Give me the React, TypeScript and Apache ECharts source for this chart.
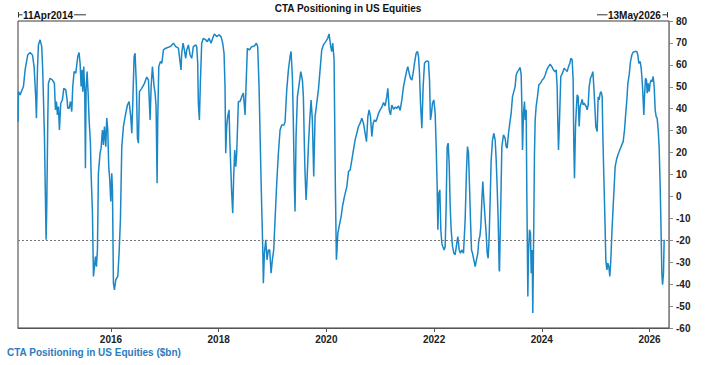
import React, { useEffect, useRef } from "react";
import * as echarts from "echarts";

// Dates as decimal years (11 Apr 2014 .. May 2026)
const years: number[] = [
  2014.275, 2014.282, 2014.313, 2014.375, 2014.406, 2014.455, 2014.499, 2014.542, 2014.573, 2014.604,
  2014.616, 2014.635, 2014.653, 2014.684, 2014.715, 2014.734, 2014.765, 2014.796, 2014.808, 2014.827,
  2014.839, 2014.870, 2014.913, 2014.950, 2014.969, 2014.988, 2015.006, 2015.025, 2015.043, 2015.068,
  2015.099, 2015.124, 2015.161, 2015.186, 2015.198, 2015.223, 2015.248, 2015.272, 2015.291, 2015.316,
  2015.347, 2015.384, 2015.408, 2015.427, 2015.446, 2015.464, 2015.477, 2015.495, 2015.514, 2015.526,
  2015.538, 2015.557, 2015.576, 2015.594, 2015.619, 2015.631, 2015.656, 2015.675, 2015.693, 2015.712,
  2015.730, 2015.749, 2015.767, 2015.798, 2015.817, 2015.842, 2015.860, 2015.879, 2015.904, 2015.922,
  2015.941, 2015.959, 2015.978, 2015.997, 2016.015, 2016.028, 2016.046, 2016.065, 2016.089, 2016.127,
  2016.151, 2016.176, 2016.201, 2016.232, 2016.263, 2016.306, 2016.337, 2016.368, 2016.387, 2016.405,
  2016.430, 2016.448, 2016.473, 2016.492, 2016.510, 2016.529, 2016.572, 2016.622, 2016.665, 2016.696,
  2016.727, 2016.746, 2016.770, 2016.801, 2016.820, 2016.838, 2016.857, 2016.869, 2016.888, 2016.919,
  2016.944, 2016.975, 2017.018, 2017.067, 2017.117, 2017.160, 2017.204, 2017.253, 2017.301, 2017.314,
  2017.339, 2017.363, 2017.388, 2017.407, 2017.438, 2017.469, 2017.500, 2017.530, 2017.574, 2017.592,
  2017.611, 2017.623, 2017.642, 2017.660, 2017.685, 2017.716, 2017.759, 2017.790, 2017.821, 2017.859,
  2017.889, 2017.920, 2017.964, 2018.007, 2018.044, 2018.075, 2018.100, 2018.118, 2018.131, 2018.149,
  2018.168, 2018.193, 2018.205, 2018.224, 2018.242, 2018.261, 2018.279, 2018.298, 2018.317, 2018.335,
  2018.366, 2018.397, 2018.428, 2018.459, 2018.490, 2018.508, 2018.533, 2018.570, 2018.614, 2018.663,
  2018.700, 2018.725, 2018.750, 2018.775, 2018.799, 2018.818, 2018.830, 2018.849, 2018.874, 2018.898,
  2018.923, 2018.948, 2018.973, 2018.997, 2019.022, 2019.047, 2019.078, 2019.109, 2019.140, 2019.171,
  2019.214, 2019.233, 2019.264, 2019.295, 2019.326, 2019.344, 2019.369, 2019.387, 2019.406, 2019.418,
  2019.437, 2019.462, 2019.493, 2019.524, 2019.555, 2019.573, 2019.592, 2019.604, 2019.623, 2019.641,
  2019.666, 2019.691, 2019.716, 2019.740, 2019.765, 2019.790, 2019.821, 2019.852, 2019.883, 2019.914,
  2019.945, 2019.988, 2020.025, 2020.050, 2020.081, 2020.099, 2020.118, 2020.143, 2020.167, 2020.186,
  2020.194, 2020.213, 2020.237, 2020.274, 2020.299, 2020.336, 2020.380, 2020.411, 2020.442, 2020.473,
  2020.503, 2020.534, 2020.565, 2020.596, 2020.627, 2020.658, 2020.689, 2020.720, 2020.745, 2020.770,
  2020.794, 2020.819, 2020.844, 2020.869, 2020.893, 2020.918, 2020.943, 2020.968, 2020.999, 2021.030,
  2021.061, 2021.091, 2021.122, 2021.141, 2021.166, 2021.191, 2021.215, 2021.246, 2021.277, 2021.308,
  2021.339, 2021.370, 2021.401, 2021.432, 2021.463, 2021.494, 2021.512, 2021.537, 2021.562, 2021.587,
  2021.611, 2021.636, 2021.667, 2021.692, 2021.711, 2021.729, 2021.748, 2021.773, 2021.797, 2021.822,
  2021.847, 2021.871, 2021.896, 2021.915, 2021.933, 2021.952, 2021.970, 2021.995, 2022.020, 2022.039,
  2022.057, 2022.070, 2022.088, 2022.107, 2022.125, 2022.144, 2022.162, 2022.187, 2022.206, 2022.224,
  2022.243, 2022.261, 2022.280, 2022.299, 2022.317, 2022.342, 2022.367, 2022.391, 2022.422, 2022.441,
  2022.466, 2022.490, 2022.515, 2022.546, 2022.577, 2022.602, 2022.620, 2022.639, 2022.658, 2022.676,
  2022.695, 2022.713, 2022.738, 2022.763, 2022.787, 2022.812, 2022.831, 2022.849, 2022.868, 2022.887,
  2022.905, 2022.924, 2022.949, 2022.967, 2022.986, 2023.004, 2023.023, 2023.041, 2023.060, 2023.085,
  2023.109, 2023.134, 2023.153, 2023.171, 2023.190, 2023.209, 2023.214, 2023.239, 2023.258, 2023.289,
  2023.320, 2023.338, 2023.357, 2023.382, 2023.406, 2023.431, 2023.456, 2023.481, 2023.505, 2023.524,
  2023.549, 2023.573, 2023.598, 2023.617, 2023.629, 2023.642, 2023.660, 2023.679, 2023.691, 2023.710,
  2023.722, 2023.741, 2023.753, 2023.772, 2023.790, 2023.803, 2023.821, 2023.833, 2023.852, 2023.864,
  2023.877, 2023.895, 2023.920, 2023.945, 2023.976, 2024.007, 2024.038, 2024.063, 2024.093, 2024.124,
  2024.155, 2024.186, 2024.217, 2024.248, 2024.267, 2024.285, 2024.298, 2024.310, 2024.329, 2024.353,
  2024.384, 2024.415, 2024.446, 2024.471, 2024.496, 2024.521, 2024.539, 2024.564, 2024.582, 2024.595,
  2024.607, 2024.626, 2024.644, 2024.657, 2024.675, 2024.694, 2024.712, 2024.731, 2024.750, 2024.768,
  2024.787, 2024.805, 2024.824, 2024.843, 2024.861, 2024.880, 2024.904, 2024.929, 2024.948, 2024.966,
  2024.985, 2025.003, 2025.028, 2025.047, 2025.065, 2025.084, 2025.102, 2025.121, 2025.133, 2025.152,
  2025.171, 2025.189, 2025.208, 2025.226, 2025.245, 2025.263, 2025.282, 2025.301, 2025.319, 2025.344,
  2025.362, 2025.387, 2025.412, 2025.437, 2025.461, 2025.486, 2025.511, 2025.536, 2025.554, 2025.579,
  2025.598, 2025.622, 2025.647, 2025.672, 2025.697, 2025.734, 2025.765, 2025.783, 2025.802, 2025.827,
  2025.845, 2025.858, 2025.870, 2025.882, 2025.895, 2025.907, 2025.926, 2025.944, 2025.957, 2025.975,
  2025.994, 2026.012, 2026.031, 2026.050, 2026.068, 2026.087, 2026.105, 2026.124, 2026.142, 2026.161,
  2026.179, 2026.198, 2026.211, 2026.229, 2026.242, 2026.260, 2026.272,
];

// CTA positioning, $bn
const positioning: number[] = [
  34.1, 47.8, 46.3, 50.1, 57.7, 64.5, 65.6, 64.5, 59.2, 44.8,
  35.7, 57.7, 69.1, 71.4, 68.3, 56.9, 27.3, -19.8, -4.6, 34.9,
  51.6, 53.9, 53.1, 51.6, 39.5, 43.3, 37.2, 41.0, 30.3, 42.5,
  44.0, 49.3, 48.6, 44.0, 40.2, 40.2, 43.3, 38.7, 50.1, 56.9,
  56.2, 63.8, 65.6, 60.7, 50.1, 57.7, 47.8, 59.2, 46.3, 12.9,
  48.6, 56.9, 47.1, 34.9, 24.3, 10.6, -6.9, -36.5, -32.0, -27.4,
  -32.0, -24.4, 10.6, 19.7, 22.0, 30.3, 23.5, 31.9, 22.7, 35.7,
  30.3, 13.6, 7.6, -2.3, 10.6, 3.0, -39.6, -42.6, -38.0, -36.5,
  -25.9, -10.7, 22.7, 31.9, 36.4, 41.7, 43.3, 36.4, 28.8, 42.5,
  63.8, 65.3, 50.1, 26.5, 24.3, 47.8, 49.3, 51.6, 54.4, 53.1,
  34.9, 50.1, 59.2, 50.1, 47.1, 41.0, 6.0, 34.9, 59.2, 61.5,
  60.7, 66.8, 67.6, 68.0, 68.6, 69.9, 68.3, 67.6, 57.7, 65.3,
  69.9, 66.8, 63.0, 66.8, 69.1, 64.5, 63.0, 68.3, 69.1, 68.3,
  60.7, 42.5, 34.9, 51.6, 69.9, 72.1, 71.4, 70.6, 72.1, 69.9,
  72.1, 74.1, 72.9, 73.7, 72.9, 69.9, 65.3, 50.1, 19.7, 31.9,
  36.4, 39.5, 27.3, 13.6, 1.5, -7.6, 9.1, 21.2, 13.6, 19.7,
  43.3, 43.3, 45.5, 47.1, 37.2, 50.1, 67.6, 66.8, 68.3, 68.6,
  69.9, 68.3, 50.1, 21.2, -4.6, -22.8, -39.6, -25.9, -19.8, -28.9,
  -24.4, -24.4, -35.0, -28.9, -24.4, -10.7, 6.0, 19.7, 30.3, 32.6,
  32.6, 34.1, 48.6, 57.7, 63.8, 66.1, 54.7, 33.4, 4.5, -6.9,
  27.3, 45.5, 50.9, 56.9, 53.1, 45.5, 22.7, 10.6, -1.6, 7.6,
  22.7, 34.9, 44.0, 34.9, 9.1, 36.4, 42.5, 48.6, 57.7, 66.8,
  69.1, 70.6, 72.1, 74.1, 68.3, 66.1, 69.9, 62.3, 4.5, -28.9,
  -25.9, -16.8, -13.7, -9.2, -4.6, 0.0, 4.5, 11.4, 12.1, 16.7,
  21.2, 25.8, 28.8, 31.9, 33.4, 35.7, 33.4, 28.8, 25.0, 36.4,
  39.5, 36.4, 27.3, 33.4, 34.9, 34.1, 35.7, 37.9, 39.5, 40.7,
  42.8, 41.3, 45.5, 49.3, 39.5, 37.2, 41.7, 39.8, 40.7, 40.2,
  41.3, 39.2, 44.0, 50.1, 53.9, 57.7, 59.2, 56.2, 53.9, 53.1,
  56.2, 60.7, 65.3, 66.1, 63.8, 56.2, 42.5, 31.1, 50.1, 60.7,
  61.5, 61.8, 61.5, 53.1, 34.9, 37.9, 42.5, 44.0, 37.9, 22.7,
  4.5, -15.2, 1.5, 3.0, -15.2, -21.3, -22.8, -24.4, -22.8, -4.6,
  22.7, 24.3, 15.2, -4.6, -15.2, -22.8, -25.9, -26.6, -21.3, -18.3,
  -24.4, -25.9, -24.4, -25.9, -10.7, 12.1, 22.7, 19.7, 4.5, -10.7,
  -24.4, -25.9, -28.9, -32.0, -28.9, -25.9, -19.8, -18.3, -13.7, -1.6,
  6.8, -1.6, -10.7, -16.8, -25.9, -28.2, -18.3, -1.6, 16.7, 25.8,
  28.8, 25.8, 16.7, 4.5, -10.7, -33.5, -34.2, -3.1, 22.7, 28.1,
  26.5, 22.7, 22.0, 28.8, 33.4, 37.9, 45.5, 47.8, 50.1, 55.4,
  56.9, 57.7, 58.8, 55.4, 42.5, 21.2, 37.9, 43.3, 34.9, 39.5,
  1.5, -45.6, -25.9, -15.2, -16.8, -35.0, -24.4, -53.2, -10.7, 19.7,
  34.9, 41.0, 45.5, 50.9, 51.6, 53.1, 53.9, 55.4, 57.7, 59.2,
  60.3, 59.2, 57.7, 56.9, 57.7, 50.1, 33.4, 21.2, 34.9, 54.7,
  56.2, 58.5, 57.7, 56.9, 59.2, 60.7, 63.0, 62.3, 53.1, 22.7,
  8.3, 31.9, 41.0, 46.3, 45.5, 31.9, 41.0, 42.5, 44.3, 41.7,
  42.5, 41.7, 41.0, 39.5, 41.7, 50.1, 53.9, 55.4, 56.9, 50.1,
  41.0, 31.9, 29.6, 45.5, 44.0, 47.1, 47.8, 45.5, 28.8, 9.1,
  -9.2, -28.9, -33.5, -30.4, -32.0, -36.5, -28.9, -16.8, -7.6, 4.5,
  13.6, 16.7, 18.9, 20.5, 22.0, 23.5, 25.0, 30.3, 36.4, 44.0,
  51.6, 55.4, 61.5, 64.5, 65.8, 66.1, 66.1, 64.5, 60.7, 61.5,
  58.5, 54.7, 50.1, 44.0, 37.2, 45.5, 53.9, 53.1, 47.1, 51.6,
  47.8, 51.6, 53.1, 52.4, 54.7, 50.1, 39.5, 36.4, 35.7, 30.3,
  22.7, 4.5, -10.7, -35.0, -40.3, -35.0, -19.8,
];

const yearTicks: number[] = [2016, 2018, 2020, 2022, 2024, 2026];
const referenceLevel = -20;
const startLabel = "11Apr2014";
const endLabel = "13May2026";
const xMin = 2014.274;
const xMax = 2026.362;

const FONT = "'Liberation Sans', Arial, sans-serif";
const LINE = "#1a87c7";

export default function App() {
  const ref = useRef<HTMLDivElement>(null);

  useEffect(() => {
    if (!ref.current) return;
    const chart = echarts.init(ref.current, null, { renderer: "svg" });
    const data = years.map((y, i) => [y, positioning[i]]);
    const dark = "#333";
    chart.setOption({
      animation: false,
      backgroundColor: "#fff",
      textStyle: { fontFamily: FONT },
      grid: {
        left: 18,
        right: 40,
        top: 21,
        bottom: 37,
        show: true,
        borderColor: "#3a3a3a",
        borderWidth: 1,
        containLabel: false,
      },
      xAxis: {
        type: "value",
        min: xMin,
        max: xMax,
        splitLine: { show: false },
        axisLine: { show: true, onZero: false, lineStyle: { color: "#555", width: 1 } },
        axisTick: {
          show: true,
          length: 4,
          customValues: yearTicks,
          lineStyle: { color: "#555" },
        },
        axisLabel: {
          customValues: yearTicks,
          formatter: (v: number) => String(Math.round(v)),
          fontFamily: FONT,
          fontSize: 10,
          fontWeight: "bold",
          color: "#222",
          margin: 6,
        },
      },
      yAxis: {
        type: "value",
        position: "right",
        min: -60,
        max: 80,
        interval: 10,
        splitLine: { show: false },
        axisLine: { show: true, onZero: false, lineStyle: { color: "#888", width: 1 } },
        axisTick: { show: true, length: 4, lineStyle: { color: "#888" } },
        axisLabel: {
          fontFamily: FONT,
          fontSize: 10,
          fontWeight: "bold",
          color: "#222",
          margin: 7,
        },
      },
      series: [
        {
          type: "line",
          data,
          showSymbol: false,
          symbol: "none",
          lineStyle: { color: LINE, width: 1.5 },
          itemStyle: { color: LINE },
          markLine: {
            silent: true,
            symbol: ["none", "none"],
            label: { show: false },
            lineStyle: { color: "#777", type: [2, 2], width: 1 },
            data: [{ yAxis: referenceLevel }],
          },
        },
      ],
      graphic: [
        {
          type: "text",
          x: 348,
          y: 8,
          style: {
            text: "CTA Positioning in US Equities",
            fontFamily: FONT,
            fontSize: 10,
            fontWeight: "bold",
            fill: "#111",
            textAlign: "center",
            textVerticalAlign: "middle",
          },
        },
        // start date marker
        { type: "line", shape: { x1: 18.5, y1: 12, x2: 18.5, y2: 17.5 }, style: { stroke: dark, lineWidth: 1 } },
        { type: "line", shape: { x1: 18.5, y1: 14.8, x2: 22.5, y2: 14.8 }, style: { stroke: dark, lineWidth: 1 } },
        {
          type: "text",
          x: 23,
          y: 15,
          style: {
            text: startLabel,
            fontFamily: FONT,
            fontSize: 10,
            fontWeight: "bold",
            fill: "#111",
            textAlign: "left",
            textVerticalAlign: "middle",
          },
        },
        { type: "line", shape: { x1: 74, y1: 14.8, x2: 86, y2: 14.8 }, style: { stroke: dark, lineWidth: 1 } },
        // end date marker
        { type: "line", shape: { x1: 597, y1: 14.8, x2: 607.5, y2: 14.8 }, style: { stroke: dark, lineWidth: 1 } },
        {
          type: "text",
          x: 608,
          y: 15,
          style: {
            text: endLabel,
            fontFamily: FONT,
            fontSize: 10,
            fontWeight: "bold",
            fill: "#111",
            textAlign: "left",
            textVerticalAlign: "middle",
          },
        },
        { type: "line", shape: { x1: 662.5, y1: 14.8, x2: 667.5, y2: 14.8 }, style: { stroke: dark, lineWidth: 1 } },
        { type: "line", shape: { x1: 667.5, y1: 12, x2: 667.5, y2: 17.5 }, style: { stroke: dark, lineWidth: 1 } },
        // series caption
        {
          type: "text",
          x: 7,
          y: 352,
          style: {
            text: "CTA Positioning in US Equities ($bn)",
            fontFamily: FONT,
            fontSize: 10,
            fontWeight: "bold",
            fill: "#2b7cbf",
            textAlign: "left",
            textVerticalAlign: "middle",
          },
        },
      ],
    });
    return () => chart.dispose();
  }, []);

  return (
    <div
      ref={ref}
      style={{ position: "fixed", left: 0, top: 0, width: 709, height: 365, background: "#fff" }}
    />
  );
}
